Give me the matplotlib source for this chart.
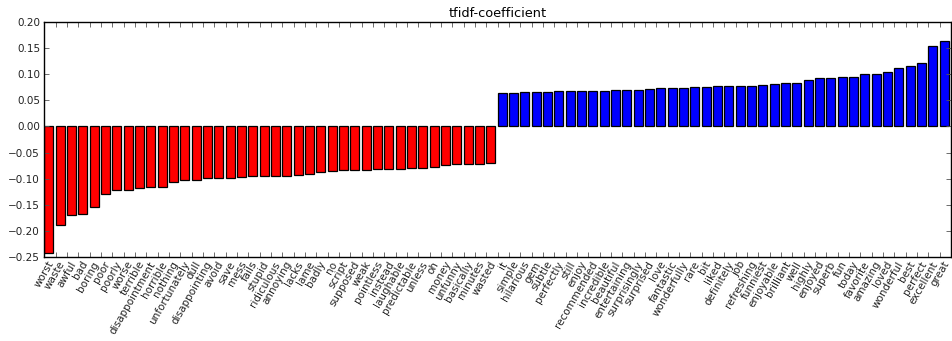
import numpy as np
import matplotlib
matplotlib.use("Agg")
import matplotlib.pyplot as plt
from matplotlib.ticker import FuncFormatter

# Most negative and most positive tf-idf logistic-regression coefficients
neg_words = ["worst", "waste", "awful", "bad", "boring", "poor", "poorly", "worse",
             "terrible", "disappointment", "horrible", "nothing", "unfortunately",
             "dull", "disappointing", "avoid", "save", "mess", "fails", "stupid",
             "ridiculous", "annoying", "lacks", "lame", "badly", "no", "script",
             "supposed", "weak", "pointless", "instead", "laughable", "predictable",
             "unless", "oh", "money", "unfunny", "basically", "minutes", "wasted"]
neg_coefs = [-0.2423, -0.1897, -0.1692, -0.1686, -0.1545, -0.1288, -0.1213, -0.1210,
             -0.1179, -0.1167, -0.1160, -0.1058, -0.1033, -0.1031, -0.0994, -0.0990,
             -0.0986, -0.0968, -0.0955, -0.0953, -0.0951, -0.0950, -0.0940, -0.0910,
             -0.0865, -0.0846, -0.0844, -0.0840, -0.0830, -0.0825, -0.0820, -0.0810,
             -0.0795, -0.0790, -0.0785, -0.0740, -0.0728, -0.0722, -0.0720, -0.0702]

pos_words = ["it", "simple", "hilarious", "gem", "subtle", "perfectly", "still", "enjoy",
             "recommended", "incredible", "beautiful", "entertaining", "surprisingly",
             "surprised", "love", "fantastic", "wonderfully", "rare", "bit", "liked",
             "definitely", "job", "refreshing", "funniest", "enjoyable", "brilliant",
             "well", "highly", "enjoyed", "superb", "fun", "today", "favorite", "amazing",
             "loved", "wonderful", "best", "perfect", "excellent", "great"]
pos_coefs = [0.0641, 0.0647, 0.0654, 0.0655, 0.0667, 0.0673, 0.0675, 0.0686,
             0.0687, 0.0688, 0.0699, 0.0701, 0.0705, 0.0718, 0.0730, 0.0737,
             0.0744, 0.0750, 0.0756, 0.0769, 0.0775, 0.0777, 0.0782, 0.0788,
             0.0808, 0.0827, 0.0833, 0.0897, 0.0923, 0.0925, 0.0949, 0.0951,
             0.1000, 0.1013, 0.1038, 0.1122, 0.1167, 0.1218, 0.1551, 0.1635]

y_ticks = [-0.25, -0.20, -0.15, -0.10, -0.05, 0.00, 0.05, 0.10, 0.15, 0.20]

words = neg_words + pos_words
coefs = np.array(neg_coefs + pos_coefs)
colors = ["#ff0000" if c < 0 else "#0000ff" for c in coefs]

fig = plt.figure(figsize=(9.52, 3.41), dpi=100)
ax = fig.add_axes([0.0465, 0.2472, 0.9525, 0.6874])

x = np.arange(len(coefs))
ax.bar(x, coefs, width=0.8, align="edge", color=colors,
       edgecolor="black", linewidth=0.9)

ax.set_xlim(0, len(coefs))
ax.set_ylim(-0.25, 0.20)
ax.set_yticks(y_ticks)


def fmt(v, _pos):
    s = f"{abs(v):.2f}"
    return ("\u2212" + s) if v < -1e-9 else s


ax.yaxis.set_major_formatter(FuncFormatter(fmt))
ax.set_xticks(np.arange(1, len(coefs) + 1))
ax.set_xticklabels(words, rotation=60, ha="right")

ax.tick_params(axis="both", which="major", direction="in", length=3.5,
               width=0.6, color="#555555", top=True, right=True,
               labelsize=7.5, labelcolor="#222222", pad=3)
ax.tick_params(axis="x", pad=2)
for s in ax.spines.values():
    s.set_linewidth(1.0)

ax.set_title("tfidf-coefficient", fontsize=9.3, pad=3.5)

fig.savefig("out.png", dpi=100)
